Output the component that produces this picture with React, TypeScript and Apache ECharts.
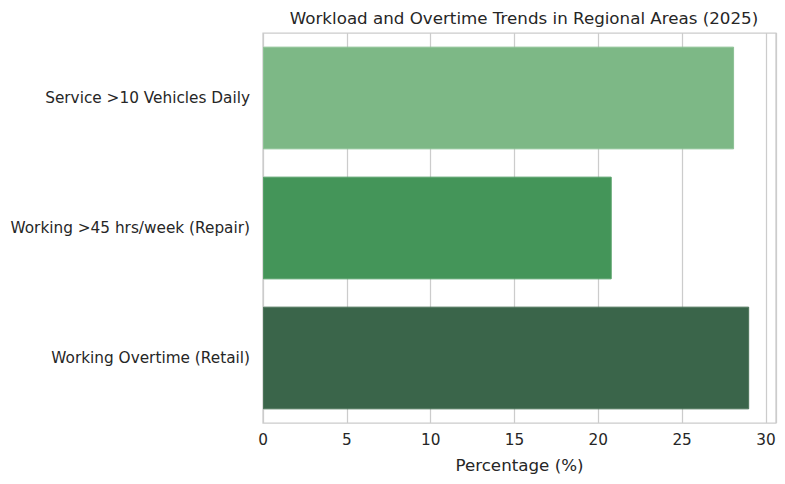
import React, { useEffect, useRef } from "react";
import * as echarts from "echarts";

const categories = [
  "Service >10 Vehicles Daily",
  "Working >45 hrs/week (Repair)",
  "Working Overtime (Retail)",
];
const values = [28.1, 20.8, 29.0];
const barColors = ["#7db886", "#449559", "#3a654a"];
const edgeColors = ["#8cc194", "#56a068", "#4c7459"];
const xTicks = [0, 5, 10, 15, 20, 25, 30];

const FONT = "DejaVu Sans";

export default function App() {
  const ref = useRef<HTMLDivElement>(null);
  useEffect(() => {
    if (!ref.current) return;
    const chart = echarts.init(ref.current, null, { renderer: "svg" });
    chart.setOption({
      animation: false,
      backgroundColor: "#ffffff",
      title: {
        text: "Workload and Overtime Trends in Regional Areas (2025)",
        left: 519,
        textAlign: "center",
        top: 4,
        textStyle: { fontFamily: FONT, fontSize: 16.7, fontWeight: "normal", color: "#262626" },
      },
      grid: {
        left: 263,
        right: 9,
        top: 33,
        bottom: 61,
        show: true,
        borderColor: "#cccccc",
        borderWidth: 1.25,
        containLabel: false,
      },
      xAxis: {
        type: "value",
        min: 0,
        max: 30.6,
        interval: 5,
        name: "Percentage (%)",
        nameLocation: "middle",
        nameGap: 33,
        nameTextStyle: { fontFamily: FONT, fontSize: 16.7, color: "#262626" },
        axisLine: { show: false },
        axisTick: { show: false },
        axisLabel: {
          fontFamily: FONT,
          fontSize: 15.3,
          color: "#262626",
          margin: 9,
          showMaxLabel: false,
          formatter: (v: number) => (xTicks.includes(v) ? String(v) : ""),
        },
        splitLine: { show: true, lineStyle: { color: "#cccccc", width: 1.25 } },
      },
      yAxis: {
        type: "category",
        data: categories,
        inverse: true,
        axisLine: { show: false },
        axisTick: { show: false },
        axisLabel: { fontFamily: FONT, fontSize: 15.3, color: "#262626", margin: 13 },
        splitLine: { show: false },
      },
      series: [
        {
          type: "bar",
          data: values.map((v, i) => ({
            value: v,
            itemStyle: { color: barColors[i], borderColor: edgeColors[i], borderWidth: 1 },
          })),
          barWidth: "79%",
        },
      ],
    });
    return () => chart.dispose();
  }, []);
  return <div ref={ref} style={{ width: 785, height: 484, position: "absolute", left: 0, top: 0 }} />;
}
